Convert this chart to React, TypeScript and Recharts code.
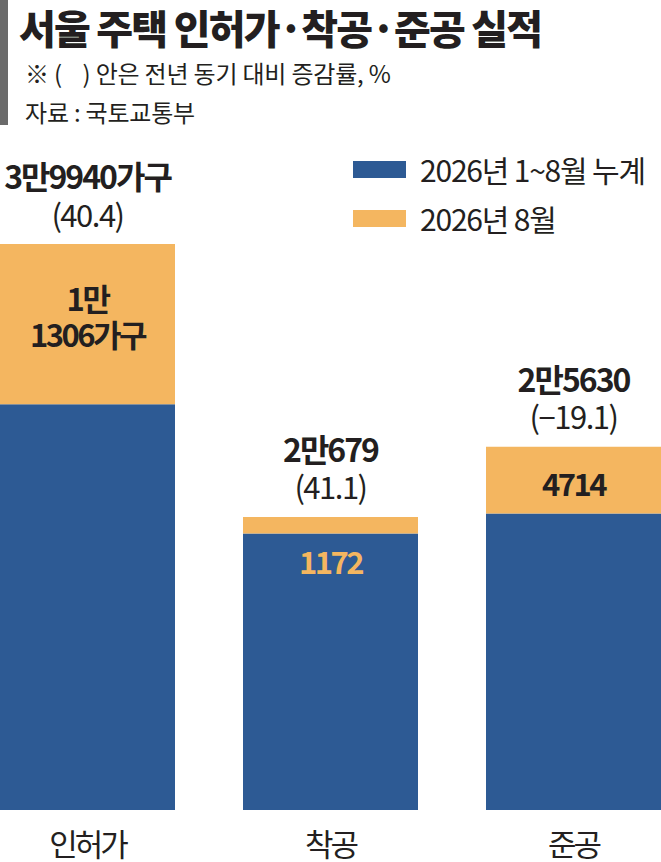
import React from 'react';
import { BarChart, Bar, XAxis, YAxis, Legend, LabelList } from 'recharts';

const categories = ['인허가', '착공', '준공'];
const totalUnits = [39940, 20679, 25630];
const augustUnits = [11306, 1172, 4714];
const totalLabels = ['3만9940가구', '2만679', '2만5630'];
const changeLabels = ['(40.4)', '(41.1)', '(−19.1)'];
const augustLabels = [['1만', '1306가구'], ['1172'], ['4714']];
const seriesNames = ['2026년 1~8월 누계', '2026년 8월'];

const BLUE = '#2d5a94';
const ORANGE = '#f4b660';
const INK = '#231f20';
const FONT = '"Noto Sans CJK KR", "Noto Sans", sans-serif';

const data = categories.map((name, i) => ({
  name,
  cumulative: totalUnits[i] - augustUnits[i],
  august: augustUnits[i],
}));
const maxTotal = Math.max(...totalUnits);

const BarLabels = (props: any) => {
  const vb = props.viewBox ?? props;
  const { x, y, width, height } = vb;
  const i = props.index ?? augustUnits.indexOf(props.value);
  const cx = x + width / 2;
  const lines = augustLabels[i] ?? [];
  const inside = height > 40;
  const shift = lines.length > 1 ? -9 : 2;
  return (
    <g fontFamily={FONT}>
      <text x={cx} y={y - 69} textAnchor="middle" dominantBaseline="central"
        fontSize={32} fontWeight={700} letterSpacing={-2} fill={INK}>
        {totalLabels[i]}
      </text>
      <text x={cx} y={y - 31} textAnchor="middle" dominantBaseline="central"
        fontSize={31} letterSpacing={-1.5} fill={INK}>
        {changeLabels[i]}
      </text>
      {lines.map((t, k) => (
        <text key={k} x={cx}
          y={inside ? y + height / 2 + (k - (lines.length - 1) / 2) * 36 + shift : y + height + 27}
          textAnchor="middle" dominantBaseline="central"
          fontSize={31} fontWeight={700} letterSpacing={-2.5}
          fill={inside ? INK : ORANGE}>
          {t}
        </text>
      ))}
    </g>
  );
};

const CategoryTick = ({ x, y, payload }: any) => (
  <text x={x} y={y + 24} textAnchor="middle" dominantBaseline="central"
    fontFamily={FONT} fontSize={31} letterSpacing={-3} fill={INK}>
    {payload.value}
  </text>
);

const LegendContent = ({ payload }: any) => (
  <div style={{ fontFamily: FONT }}>
    {(payload ?? []).map((p: any, k: number) => (
      <div key={k} style={{ display: 'flex', alignItems: 'center', height: 17, marginBottom: 32 }}>
        <div style={{ width: 53, height: 17, background: p.color, marginRight: 14 }} />
        <span style={{ fontSize: 30, lineHeight: '17px', letterSpacing: -1.2, color: INK, whiteSpace: 'nowrap' }}>
          {p.value}
        </span>
      </div>
    ))}
  </div>
);

export default function App() {
  return (
    <div style={{ position: 'absolute', left: 0, top: 0, width: 661, height: 862, overflow: 'hidden', background: '#fff' }}>
      <div style={{ position: 'absolute', left: 0, top: 0, width: 8, height: 125, background: '#6b6b6b' }} />
      <div style={{ position: 'absolute', left: 19, top: 6, fontFamily: FONT, fontSize: 40, lineHeight: '42px', fontWeight: 900, letterSpacing: -1.8, color: INK, whiteSpace: 'nowrap' }}>
        서울 주택 인허가·착공·준공 실적
      </div>
      <div style={{ position: 'absolute', left: 25, top: 61, fontFamily: FONT, fontSize: 24, lineHeight: '24px', letterSpacing: -0.2, color: INK, whiteSpace: 'pre' }}>
        {'※ (    ) 안은 전년 동기 대비 증감률, %'}
      </div>
      <div style={{ position: 'absolute', left: 25, top: 100, fontFamily: FONT, fontSize: 24, lineHeight: '24px', letterSpacing: -0.2, color: INK, whiteSpace: 'nowrap' }}>
        자료 : 국토교통부
      </div>
      <div style={{ position: 'absolute', left: -34, top: 0 }}>
        <BarChart width={729} height={862} data={data}
          margin={{ top: 244, right: 0, bottom: 0, left: 0 }}>
          <XAxis dataKey="name" axisLine={false} tickLine={false} height={52} interval={0}
            tick={(p: any) => <CategoryTick {...p} />} />
          <YAxis hide domain={[0, maxTotal]} />
          <Legend layout="vertical" align="center" verticalAlign="middle"
            wrapperStyle={{ position: 'absolute', top: 161, left: 387, width: 330 }}
            content={LegendContent} />
          <Bar dataKey="cumulative" name={seriesNames[0]} stackId="a" fill={BLUE} barSize={175} isAnimationActive={false} />
          <Bar dataKey="august" name={seriesNames[1]} stackId="a" fill={ORANGE} barSize={175} isAnimationActive={false}>
            <LabelList dataKey="august" content={BarLabels} />
          </Bar>
        </BarChart>
      </div>
    </div>
  );
}
